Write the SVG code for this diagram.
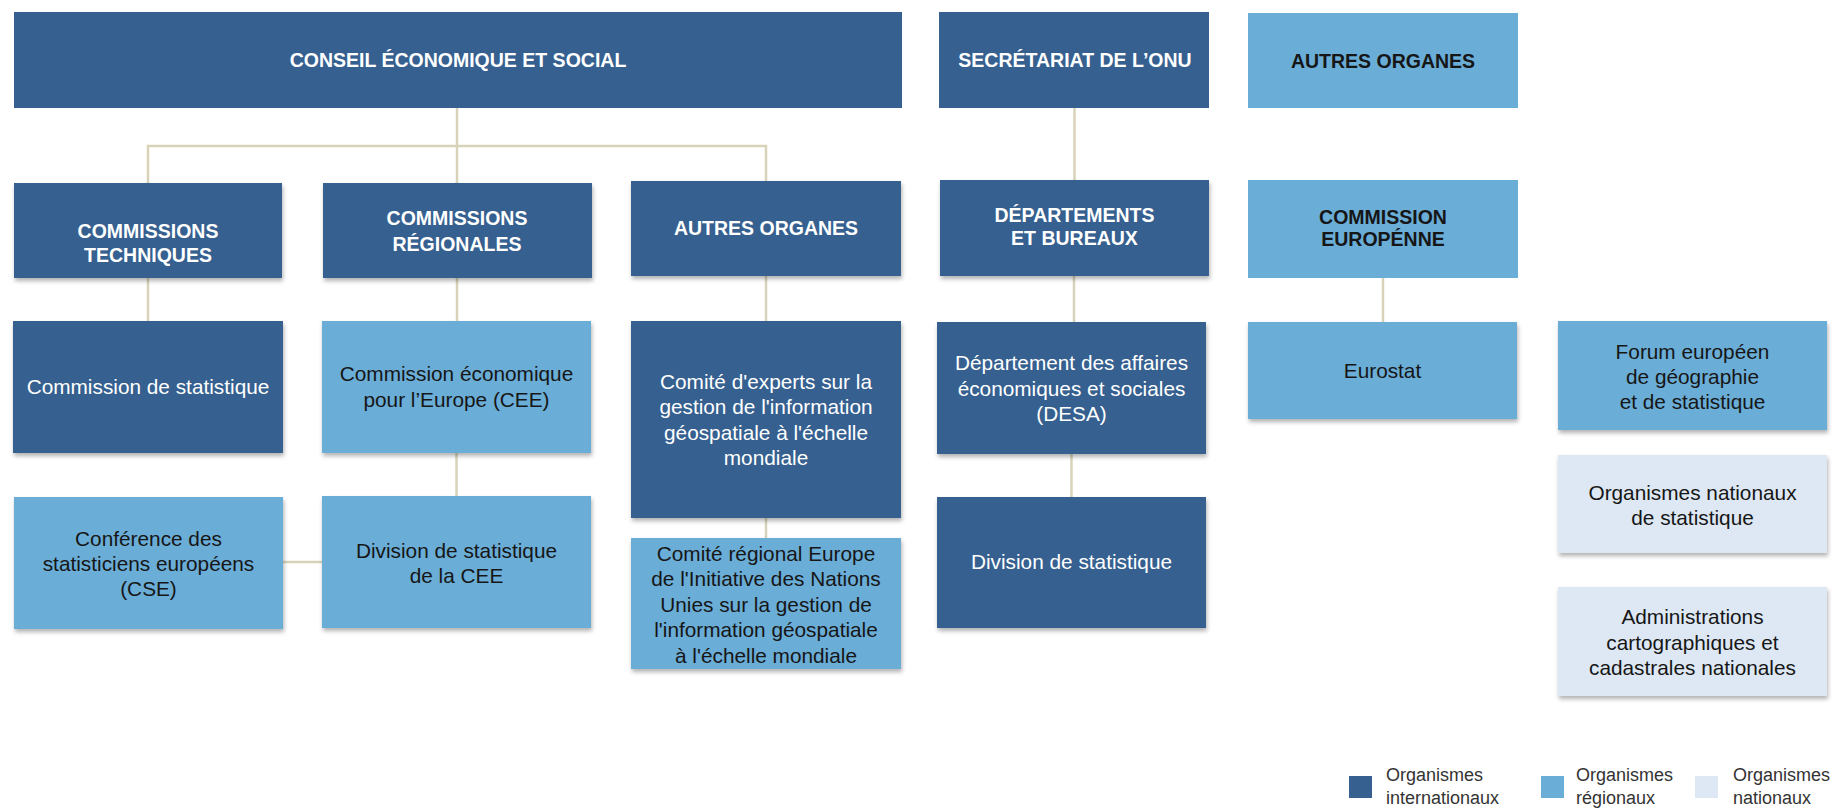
<svg xmlns="http://www.w3.org/2000/svg" width="1836" height="808" viewBox="0 0 1836 808">
  <defs>
    <filter id="shadow" x="-5%" y="-5%" width="112%" height="120%">
      <feDropShadow dx="1" dy="3" stdDeviation="2" flood-color="#000" flood-opacity="0.3"/>
    </filter>
    <style>
      .intl { fill: #36608f; }
      .reg { fill: #6aadd6; }
      .nat { fill: #dde8f4; }
      .sh { filter: url(#shadow); }
      text { font-family: "Liberation Sans", Arial, sans-serif; text-anchor: middle; }
      .h { font-size: 19.5px; font-weight: bold; }
      .b { font-size: 20.8px; }
      .w { fill: #ffffff; }
      .k { fill: #161616; }
      .conn { fill: none; stroke: #d8d3b8; stroke-width: 2.5; }
      .leg { font-size: 18px; fill: #333333; text-anchor: start; }
    </style>
  </defs>
  <rect width="1836" height="808" fill="#ffffff"/>

  <!-- connectors -->
  <g id="connectors" class="conn">
    <path d="M457 108 V183"/>
    <path d="M148 183 V146 H766 V181"/>
    <path d="M1074.5 108 V180"/>
    <path d="M148 278 V321"/>
    <path d="M457 278 V321"/>
    <path d="M766 276 V321"/>
    <path d="M456.5 453 V496"/>
    <path d="M766 518 V538"/>
    <path d="M283 562 H322"/>
    <path d="M1074 276 V322"/>
    <path d="M1071.5 454 V497"/>
    <path d="M1383 278 V322"/>
  </g>

  <!-- top level -->
  <g id="conseil">
    <rect class="intl" x="14" y="12" width="888" height="96"/>
    <text class="h w" x="458" y="66.7">CONSEIL ÉCONOMIQUE ET SOCIAL</text>
  </g>
  <g id="secretariat">
    <rect class="intl" x="939" y="12" width="270" height="96"/>
    <text class="h w" x="1075" y="66.7">SECRÉTARIAT DE L’ONU</text>
  </g>
  <g id="autres-organes-ext">
    <rect class="reg" x="1248" y="13" width="270" height="95"/>
    <text class="h k" x="1383" y="67.5">AUTRES ORGANES</text>
  </g>

  <!-- second level -->
  <g id="commissions-techniques">
    <rect class="intl sh" x="14" y="183" width="268" height="95"/>
    <text class="h w" x="148" y="237.7">COMMISSIONS</text>
    <text class="h w" x="148" y="262.3">TECHNIQUES</text>
  </g>
  <g id="commissions-regionales">
    <rect class="intl sh" x="323" y="183" width="269" height="95"/>
    <text class="h w" x="457" y="225.3">COMMISSIONS</text>
    <text class="h w" x="457" y="250.7">RÉGIONALES</text>
  </g>
  <g id="autres-organes">
    <rect class="intl sh" x="631" y="181" width="270" height="95"/>
    <text class="h w" x="766" y="235">AUTRES ORGANES</text>
  </g>
  <g id="departements">
    <rect class="intl sh" x="940" y="180" width="269" height="96"/>
    <text class="h w" x="1074.5" y="222.3">DÉPARTEMENTS</text>
    <text class="h w" x="1074.5" y="245">ET BUREAUX</text>
  </g>
  <g id="commission-europeenne">
    <rect class="reg" x="1248" y="180" width="270" height="98"/>
    <text class="h k" x="1383" y="224.3">COMMISSION</text>
    <text class="h k" x="1383" y="246.3">EUROPÉNNE</text>
  </g>

  <!-- third level -->
  <g id="commission-statistique">
    <rect class="intl sh" x="13" y="321" width="270" height="132"/>
    <text class="b w" x="148" y="394.3">Commission de statistique</text>
  </g>
  <g id="cee">
    <rect class="reg sh" x="322" y="321" width="269" height="132"/>
    <text class="b k" x="456.5" y="381.3">Commission économique</text>
    <text class="b k" x="456.5" y="406.7">pour l’Europe (CEE)</text>
  </g>
  <g id="comite-experts">
    <rect class="intl sh" x="631" y="321" width="270" height="197"/>
    <text class="b w" x="766" y="389">Comité d'experts sur la</text>
    <text class="b w" x="766" y="414.3">gestion de l'information</text>
    <text class="b w" x="766" y="439.5">géospatiale à l'échelle</text>
    <text class="b w" x="766" y="464.8">mondiale</text>
  </g>
  <g id="desa">
    <rect class="intl sh" x="937" y="322" width="269" height="132"/>
    <text class="b w" x="1071.5" y="370.3">Département des affaires</text>
    <text class="b w" x="1071.5" y="395.5">économiques et sociales</text>
    <text class="b w" x="1071.5" y="420.7">(DESA)</text>
  </g>
  <g id="eurostat">
    <rect class="reg sh" x="1248" y="322" width="269" height="97"/>
    <text class="b k" x="1382.5" y="378.3">Eurostat</text>
  </g>
  <g id="forum-europeen">
    <rect class="reg sh" x="1558" y="321" width="269" height="109"/>
    <text class="b k" x="1692.5" y="358.7">Forum européen</text>
    <text class="b k" x="1692.5" y="383.9">de géographie</text>
    <text class="b k" x="1692.5" y="409">et de statistique</text>
  </g>

  <!-- fourth level -->
  <g id="cse">
    <rect class="reg sh" x="14" y="497" width="269" height="132"/>
    <text class="b k" x="148.5" y="545.7">Conférence des</text>
    <text class="b k" x="148.5" y="570.9">statisticiens européens</text>
    <text class="b k" x="148.5" y="596.1">(CSE)</text>
  </g>
  <g id="division-cee">
    <rect class="reg sh" x="322" y="496" width="269" height="132"/>
    <text class="b k" x="456.5" y="557.7">Division de statistique</text>
    <text class="b k" x="456.5" y="582.9">de la CEE</text>
  </g>
  <g id="comite-regional">
    <rect class="reg sh" x="631" y="538" width="270" height="131"/>
    <text class="b k" x="766" y="561">Comité régional Europe</text>
    <text class="b k" x="766" y="586.4">de l'Initiative des Nations</text>
    <text class="b k" x="766" y="611.8">Unies sur la gestion de</text>
    <text class="b k" x="766" y="637.2">l'information géospatiale</text>
    <text class="b k" x="766" y="662.6">à l'échelle mondiale</text>
  </g>
  <g id="division-desa">
    <rect class="intl sh" x="937" y="497" width="269" height="131"/>
    <text class="b w" x="1071.5" y="569.3">Division de statistique</text>
  </g>
  <g id="organismes-nationaux">
    <rect class="nat sh" x="1558" y="455" width="269" height="98"/>
    <text class="b k" x="1692.5" y="500">Organismes nationaux</text>
    <text class="b k" x="1692.5" y="525.2">de statistique</text>
  </g>
  <g id="administrations">
    <rect class="nat sh" x="1558" y="587" width="269" height="109"/>
    <text class="b k" x="1692.5" y="624.3">Administrations</text>
    <text class="b k" x="1692.5" y="649.5">cartographiques et</text>
    <text class="b k" x="1692.5" y="674.7">cadastrales nationales</text>
  </g>

  <!-- legend -->
  <g id="legend">
    <rect class="intl" x="1349" y="776" width="23" height="22"/>
    <text class="leg" x="1386" y="781">Organismes</text>
    <text class="leg" x="1386" y="803.5">internationaux</text>
    <rect class="reg" x="1541" y="776" width="23" height="22"/>
    <text class="leg" x="1576" y="781">Organismes</text>
    <text class="leg" x="1576" y="803.5">régionaux</text>
    <rect class="nat" x="1695" y="776" width="23" height="22"/>
    <text class="leg" x="1733" y="781">Organismes</text>
    <text class="leg" x="1733" y="803.5">nationaux</text>
  </g>
</svg>
